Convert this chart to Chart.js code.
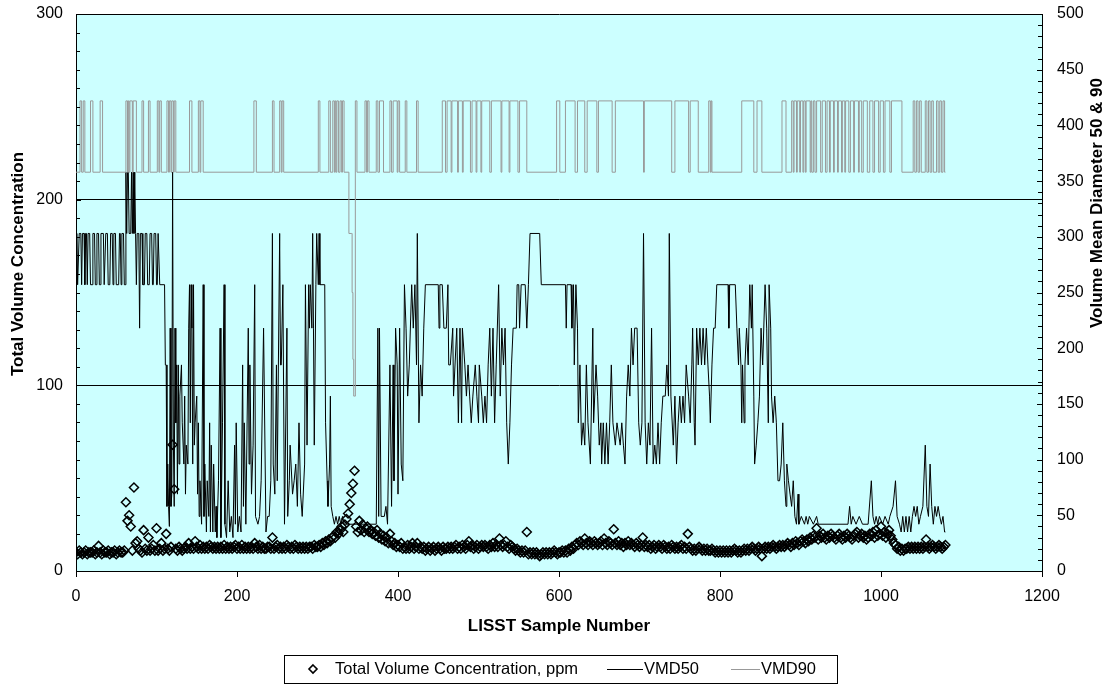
<!DOCTYPE html>
<html><head><meta charset="utf-8">
<script src="https://cdn.jsdelivr.net/npm/chart.js@4.4.1/dist/chart.umd.min.js"></script>
<style>html,body{margin:0;padding:0;background:#fff}#wrap{width:1111px;height:685px;position:relative}</style>
</head><body><div id="wrap"><canvas id="c" width="1111" height="685"></canvas></div>
<script>
// ---------------- DATA ----------------
const xTickValues = [0, 200, 400, 600, 800, 1000, 1200];
const leftTickValues = [0, 100, 200, 300];
const rightTickValues = [0, 50, 100, 150, 200, 250, 300, 350, 400, 450, 500];
const seriesNames = ['Total Volume Concentration, ppm', 'VMD50', 'VMD90'];
const axisTitles = ['LISST Sample Number', 'Total Volume Concentration', 'Volume Mean Diameter 50 & 90'];

// Total Volume Concentration (ppm), one reading every 2nd sample, samples 0..1080
const tvcSampleStep = 2;
const tvc = [
10,9,11,10,9,10,11,9,10,10,
10,11,9,10,13.5,10,9,11,10,10,
11,9,10,10,11,9,10,11,10,10,
11,37,27,30,24,11,45,15,16,12,
11,10,22,12,11,18,11,12,14,11,
23,11,12,15,11,12,20,12,11,13,
68,44,12,11,13,12,11,12,13,12,
15,12,13,12,16,13,12,14,12,13,
12,13,12,14,13,12,13,12,13,12,
13,12,14,12,13,12,13,12,13,14,
12,13,12,14,12,13,12,13,12,13,
12,15,13,12,14,12,13,12,12,13,
13,12,18,12,13,14,12,13,12,13,
12,14,13,12,13,12,14,13,12,13,
12,13,12,13,12,13,13,12,14,13,
13,14,13,15,14,16,15,17,16,18,
19,18,21,20,22,24,21,25,28,31,
36,42,47,54,24,21,27,22,25,21,
23,24,21,22,20,21,19,22,18,20,
17,19,16,18,15,20,16,14,15,13,
14,13,15,12,13,12,14,12,13,15,
12,13,15,12,13,12,13,11,12,13,
11,12,13,11,12,13,12,11,13,12,
12,13,12,13,12,13,14,12,13,12,
14,13,12,14,16,13,14,12,13,14,
12,13,14,13,14,13,12,14,13,15,
13,14,13,17.5,14,13,14,16,13,12,
14,13,12,11,12,11,10,11,10,11,
21,9,10,9,10,9,10,9,8,9,
10,9,10,9,10,9,10,11,10,9,
10,10,11,10,11,10,12,11,13,12,
14,15,14,16,15,14,17.5,15,14,16,
15,14,16,15,14,15,16,14,17.5,15,
14,16,15,14,22.5,15,14,16,14,15,
13,15,14,16,14,15,14,13,15,14,
13,14,18,13,14,13,14,12,13,14,
12,13,14,13,12,14,13,12,13,12,
14,13,12,13,12,13,14,12,13,12,
20,13,12,11,12,11,12,13,12,11,
12,11,12,11,11,12,11,10,11,10,
11,10,11,10,11,10,11,10,11,12,
11,10,11,10,11,12,11,12,11,12,
13,12,11,12,13,12,8,12,13,12,
13,12,13,14,13,12,13,14,13,14,
13,14,15,14,13,15,14,16,15,14,
16,17,16,15,17,16,18,17,19,18,
23,17,19,18,20,18,17,19,18,20,
19,18,17,19,20,18,17,19,18,20,
19,18,17,19,20,21,18,19,20,18,
19,17,18,20,19,21,18,22,19,20,
24,19,21,18,20,22,19,17,15,14,
12,13,11,12,11,12,12,13,12,13,
12,13,12,13,12,13,12,13,17,13,
12,13,14,13,12,13,14,13,12,13,
14
];

// VMD50 (microns): [sample number, value]
const vmd50 = [
[0,257],[1,303],[2,257],[4,303],[6,303],[7,257],[8,303],[10,303],[11,257],[12,303],[13,303],[14,257],[15,303],[17,303],[18,257],[20,257],[21,303],[23,303],[24,257],[25,257],[26,303],[28,303],[29,257],[30,257],[31,303],[34,303],[35,257],[36,257],[37,303],[39,303],[40,257],[42,257],[43,303],[45,303],[46,257],[47,303],[49,303],[50,257],[53,257],[54,303],[55,303],[56,257],[57,303],[59,303],[60,257],[61,257],
[62,358],[63,303],[64,358],[65,358],[66,303],[68,303],[69,358],[70,303],[71,358],[72,303],[73,358],[74,303],[75,257],[76,303],[78,303],[79,218],[80,303],[82,303],[83,257],[85,257],[86,303],[88,303],[89,257],[91,257],[92,303],[94,303],[95,257],[96,257],[97,303],[99,303],[100,257],[101,257],[102,303],[103,303],[104,257],[110,257],
[111,185],[112,185],[113,58],[114,96],[115,58],[116,40],[117,218],[118,58],[119,69],[120,358],[121,113],[122,58],[123,218],[124,133],[125,185],[126,69],[127,185],[128,96],[129,157],[131,185],[132,133],[134,96],[135,157],[136,69],[137,113],[139,96],[140,218],[141,257],[142,133],[143,257],[144,218],[145,96],[146,257],[147,113],[148,133],[150,157],[151,69],[152,133],[153,49],[154,81],[156,42],[158,257],[159,49],[160,96],[162,35],[163,81],[165,49],[166,133],[167,35],[168,113],[170,35],[171,96],[173,35],[174,58],[175,30],[177,81],[179,218],[180,30],[182,133],[184,257],[185,42],[187,30],[189,81],[191,35],[193,49],[195,30],[197,113],[198,42],[199,133],
[201,35],[203,49],[205,35],[207,185],[208,58],[209,133],[211,42],[214,218],[215,96],[216,185],[218,69],[220,113],[222,257],[223,49],[226,42],[228,49],[230,81],[233,218],[236,35],[238,49],[240,49],[242,81],[244,303],[245,96],[247,69],[249,185],[250,81],[253,303],[254,185],[255,185],[257,257],[259,42],[262,218],[263,49],[265,81],[266,113],[269,69],[271,81],[273,96],[275,58],[277,133],[279,69],[281,49],[284,96],[285,257],[287,113],[289,257],[290,218],[291,257],[293,218],[294,303],[295,218],[296,113],[298,257],[299,303],[301,257],[302,303],[303,257],[309,257],
[310,133],[312,81],[313,58],[315,96],[316,157],[317,58],[319,49],[321,42],[323,49],[325,42],[327,49],[329,42],[331,49],[333,42],[373,42],[375,218],[376,49],[377,218],[379,49],[383,49],[385,58],[387,42],[390,185],[392,58],[394,185],[395,81],[397,218],[399,185],[400,69],[402,218],[404,96],[406,81],[408,257],[410,218],[412,157],[414,185],[417,257],[419,218],[421,257],[423,185],[424,303],[426,133],[428,185],[430,157],[432,218],[434,257],[450,257],[451,218],[452,257],[455,257],[457,218],[460,218],[462,257],[463,185],[465,185],[468,218],[469,157],
[473,218],[475,133],[477,218],[479,133],[480,218],[483,185],[485,157],[487,185],[489,157],[491,133],[493,157],[496,185],[498,157],[500,133],[501,185],[504,157],[506,133],[508,157],[510,133],[512,185],[514,218],[516,157],[518,218],[520,133],[522,185],[525,257],[527,157],[529,218],[531,185],[533,218],[535,133],[537,96],[539,133],[541,185],[543,218],[547,218],[548,257],[550,257],[551,218],[553,257],[558,257],[560,218],[562,257],[564,303],[576,303],[578,257],[608,257],
[609,218],[610,257],[615,257],[616,218],[618,257],[619,185],[621,257],[623,218],[624,133],[626,185],[628,113],[630,133],[632,113],[634,185],[636,133],[639,96],[642,218],[643,133],[646,185],[648,157],[650,113],[652,133],[653,96],[655,133],[657,96],[659,133],[661,96],[663,133],[665,185],[667,133],[670,113],[672,133],[676,113],[678,133],[680,113],[682,96],[684,157],[686,185],[688,157],[690,218],[692,185],[694,218],[697,218],[699,133],[701,113],[703,133],[705,303],[707,133],[709,96],[711,133],[713,113],[715,218],[717,96],[719,113],[721,96],[723,133],[725,96],[727,133],[729,157],[732,157],[734,185],[736,157],[737,303],[739,157],[742,113],[744,157],[746,96],[748,133],[750,157],[752,133],[754,157],[756,133],[758,185],[761,157],[763,133],[765,185],[766,218],[768,133],[769,113],[771,218],[773,185],[775,218],[777,185],[779,218],[781,185],[783,218],[785,185],[787,157],[788,133],[790,185],[792,218],[794,218],[796,257],[810,257],
[811,218],[812,257],[819,257],[821,218],[823,185],[824,218],[826,185],[827,133],[828,185],[830,133],[831,185],[833,218],[835,185],[837,257],[839,218],[840,257],[842,157],[843,96],[845,113],[847,133],[849,157],[851,218],[853,185],[856,257],[858,218],[860,133],[861,257],[863,218],[864,157],[866,133],[868,157],[870,133],[872,81],[874,81],[876,96],[878,133],[880,81],[882,58],[883,96],[885,81],[887,69],[889,58],[891,81],[893,49],[895,42],[897,69],[898,42],[901,49],[905,42],[907,49],[909,42],[911,49],[916,42],[920,49],[922,42],[959,42],[961,58],[963,42],[965,49],[969,42],[973,49],[977,42],[984,42],[988,81],[990,49],[992,42],[994,49],[996,42],[998,49],
[1002,42],[1005,49],[1009,42],[1011,49],[1015,58],[1018,81],[1020,49],[1023,42],[1025,35],[1027,49],[1029,35],[1031,49],[1033,35],[1035,49],[1037,35],[1039,49],[1041,58],[1043,49],[1045,58],[1047,42],[1049,49],[1052,58],[1055,113],[1057,58],[1059,49],[1061,96],[1063,58],[1065,42],[1067,58],[1069,49],[1071,58],[1073,49],[1075,42],[1077,49],[1079,35],[1080,35]
];

// VMD90 (microns): [sample number where the value starts, value]
const vmd90 = [
[0,358],[5,422],[7,358],[9,422],[11,358],[18,422],[21,358],[30,422],[33,358],[62,422],[64,358],[65,422],[66,358],[67,422],[70,358],[71,422],[75,358],[82,422],[84,358],[90,422],[92,358],[101,422],[103,358],[104,422],[106,358],[113,422],[115,358],[116,422],[118,358],[119,422],[121,358],[122,422],[124,358],[141,422],[144,358],[152,422],[154,358],[155,422],[158,358],
[221,422],[224,358],[244,422],[246,358],[253,422],[255,358],[256,422],[258,358],[301,422],[303,358],[314,422],[316,358],[319,422],[321,358],[322,422],[323,358],[324,422],[326,358],[328,422],[330,358],[331,422],[333,358],[339,303],[342,303],[343,250],[344,190],[345,157],[346,157],[347,422],[349,358],[359,422],[361,358],[362,422],[364,358],[373,422],[375,358],[377,422],[382,358],[390,422],[392,358],[394,422],[399,358],[400,422],[402,358],
[409,422],[411,358],[423,422],[425,358],[455,422],[459,358],[461,422],[466,358],[467,422],[474,358],[475,422],[480,358],[481,422],[490,358],[492,422],[497,358],[498,422],[503,358],[504,422],[514,358],[516,422],[528,358],[529,422],[538,358],[539,422],[549,358],[551,422],[560,358],[597,422],[601,358],
[608,422],[620,358],[623,422],[632,358],[635,422],[647,358],[649,422],[666,358],[670,422],[705,358],[706,422],[740,358],[744,422],[761,358],[763,422],[773,358],[786,422],[788,358],[789,422],[790,358],
[827,422],[842,358],[846,422],[852,358],[877,422],[882,358],[889,422],[891,358],[892,422],[895,358],[896,422],[899,358],[900,422],[903,358],[904,422],[906,358],[907,422],[912,358],[913,422],[914,358],[916,422],[918,358],[920,422],[925,358],[927,422],[931,358],[933,422],[936,358],[937,422],[941,358],[942,422],[946,358],[947,422],[951,358],[952,422],[955,358],[956,422],[960,358],[962,422],[966,358],[967,422],[972,358],[973,422],[976,358],[978,422],[983,358],[986,422],[990,358],[992,422],[997,358],[999,422],
[1003,358],[1005,422],[1011,358],[1013,422],[1026,358],[1040,422],[1042,358],[1044,422],[1046,358],[1048,422],[1050,358],[1055,422],[1057,358],[1059,422],[1061,358],[1063,422],[1065,358],[1069,422],[1071,358],[1073,422],[1075,358],[1077,422],[1079,358],[1080,358]
];

// ---------------- STYLE / LAYOUT ----------------
const FONT = '"Liberation Sans", Arial, sans-serif';
const PLOT_BG = '#CCFFFF';

const bgPlugin = {
  id: 'plotBg',
  beforeDraw(chart) {
    const {ctx, chartArea: a} = chart;
    ctx.save();
    ctx.fillStyle = PLOT_BG;
    ctx.fillRect(a.left, a.top, a.right - a.left, a.bottom - a.top);
    ctx.restore();
  }
};

const decoPlugin = {
  id: 'deco',
  afterDraw(chart) {
    const {ctx, chartArea: a, scales} = chart;
    const ys = scales.y, y1 = scales.y1, xs = scales.x;
    ctx.save();
    ctx.strokeStyle = '#000';
    ctx.lineWidth = 1;
    ctx.beginPath();
    for (let v = 0; v <= 300; v += 10) {
      const y = Math.round(ys.getPixelForValue(v)) + 0.5;
      const len = (v % 100 === 0) ? 5 : 4;
      ctx.moveTo(a.left, y); ctx.lineTo(a.left + len, y);
    }
    for (let v = 0; v <= 500; v += 10) {
      const y = Math.round(y1.getPixelForValue(v)) + 0.5;
      const len = (v % 50 === 0) ? 5 : 4;
      ctx.moveTo(a.right, y); ctx.lineTo(a.right - len, y);
    }
    for (const v of xTickValues) {
      const x = Math.round(xs.getPixelForValue(v)) + 0.5;
      ctx.moveTo(x, a.bottom); ctx.lineTo(x, a.bottom + 6);
    }
    ctx.stroke();

    // vertical axis titles (both read bottom-to-top)
    ctx.fillStyle = '#000';
    ctx.font = 'bold 17px ' + FONT;
    ctx.textAlign = 'center';
    ctx.textBaseline = 'middle';
    ctx.save();
    ctx.translate(18, 264);
    ctx.rotate(-Math.PI / 2);
    ctx.fillText(axisTitles[1], 0, 0);
    ctx.restore();
    ctx.save();
    ctx.translate(1097, 203);
    ctx.rotate(-Math.PI / 2);
    ctx.fillText(axisTitles[2], 0, 0);
    ctx.restore();

    // legend
    const ly = 669;
    ctx.strokeStyle = '#000';
    ctx.lineWidth = 1;
    ctx.strokeRect(284.5, 655.5, 553, 28);
    ctx.lineWidth = 1.6;
    ctx.beginPath();
    ctx.moveTo(313, ly - 4); ctx.lineTo(317, ly); ctx.lineTo(313, ly + 4); ctx.lineTo(309, ly); ctx.closePath();
    ctx.stroke();
    ctx.lineWidth = 1;
    ctx.beginPath(); ctx.strokeStyle = '#000';
    ctx.moveTo(607, ly + 0.5); ctx.lineTo(643, ly + 0.5); ctx.stroke();
    ctx.beginPath(); ctx.strokeStyle = '#999';
    ctx.moveTo(731, ly + 0.5); ctx.lineTo(760, ly + 0.5); ctx.stroke();
    ctx.font = '16.5px ' + FONT;
    ctx.textAlign = 'left';
    ctx.fillText(seriesNames[0], 335, ly);
    ctx.fillText(seriesNames[1], 644, ly);
    ctx.fillText(seriesNames[2], 761, ly);
    ctx.restore();
  }
};

Chart.defaults.font.family = FONT;
Chart.defaults.font.size = 16;
Chart.defaults.color = '#000';

function noPadV(s) { s.paddingTop = 0; s.paddingBottom = 0; }

new Chart(document.getElementById('c'), {
  type: 'scatter',
  data: {
    datasets: [
      {
        label: seriesNames[0],
        data: tvc.map((v, i) => ({x: i * tvcSampleStep, y: v})),
        yAxisID: 'y',
        showLine: false,
        pointStyle: 'rectRot',
        pointRadius: 4.5,
        pointBorderWidth: 1.5,
        pointBorderColor: '#000',
        pointBackgroundColor: 'rgba(0,0,0,0)',
        order: 3
      },
      {
        label: seriesNames[1],
        type: 'line',
        data: vmd50.map(p => ({x: p[0], y: p[1]})),
        yAxisID: 'y1',
        borderColor: '#000',
        borderWidth: 1,
        pointRadius: 0,
        tension: 0,
        fill: false,
        order: 2
      },
      {
        label: seriesNames[2],
        type: 'line',
        data: vmd90.map(p => ({x: p[0], y: p[1]})),
        yAxisID: 'y1',
        borderColor: '#999999',
        borderWidth: 1,
        pointRadius: 0,
        stepped: true,
        fill: false,
        order: 1
      }
    ]
  },
  options: {
    responsive: false,
    maintainAspectRatio: false,
    animation: false,
    devicePixelRatio: 1,
    layout: {padding: {top: 14, left: 0, right: 0, bottom: 0}},
    plugins: {legend: {display: false}, tooltip: {enabled: false}},
    scales: {
      x: {
        type: 'linear', position: 'bottom', min: 0, max: 1200,
        afterBuildTicks(s) { s.ticks = xTickValues.map(v => ({value: v})); },
        ticks: {padding: 16, maxRotation: 0, autoSkip: false, font: {size: 16}, callback: v => String(v)},
        grid: {display: true, drawOnChartArea: false, drawTicks: false},
        border: {display: true, color: '#000', width: 1},
        title: {display: true, text: axisTitles[0], font: {size: 17, weight: 'bold'}, padding: {top: 0, bottom: 48}},
        afterFit(s) { s.height = 114; s.paddingLeft = 0; s.paddingRight = 0; }
      },
      y: {
        type: 'linear', position: 'left', min: 0, max: 300,
        afterBuildTicks(s) { s.ticks = leftTickValues.map(v => ({value: v})); },
        ticks: {padding: 13, font: {size: 16}, callback: v => String(v)},
        grid: {display: true, color: '#000', lineWidth: 1, drawTicks: false},
        border: {display: true, color: '#000', width: 1},
        afterFit(s) { s.width = 76; noPadV(s); }
      },
      y1: {
        type: 'linear', position: 'right', min: 0, max: 500,
        afterBuildTicks(s) { s.ticks = rightTickValues.map(v => ({value: v})); },
        ticks: {padding: 15, font: {size: 16}, callback: v => String(v)},
        grid: {display: true, drawOnChartArea: false, drawTicks: false},
        border: {display: true, color: '#000', width: 1},
        afterFit(s) { s.width = 69; noPadV(s); }
      }
    }
  },
  plugins: [bgPlugin, decoPlugin]
});
</script>
</body></html>
